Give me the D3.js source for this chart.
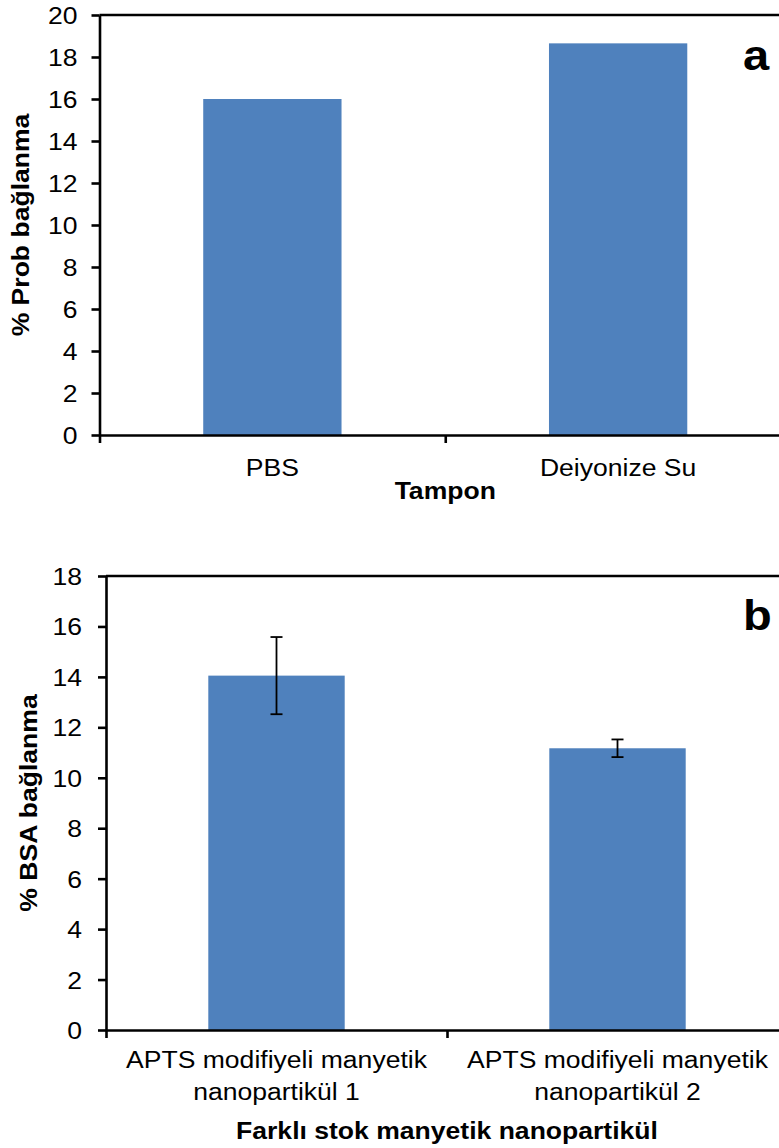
<!DOCTYPE html>
<html>
<head>
<meta charset="utf-8">
<script src="https://cdn.jsdelivr.net/npm/d3@7/dist/d3.min.js"></script>
<style>
  html, body { margin: 0; padding: 0; background: #ffffff; }
  svg { display: block; }
  text { font-family: "Liberation Sans", Arial, Helvetica, sans-serif; fill: #000; }
</style>
</head>
<body>
<svg id="chart" width="779" height="1148"></svg>
<script>
// ---- data ----
const bufferCategories = ["PBS", "Deiyonize Su"];
const probeBinding = [16.0, 18.65];
const probeTicks = [0, 2, 4, 6, 8, 10, 12, 14, 16, 18, 20];

const stockCategories = [
  ["APTS modifiyeli manyetik", "nanopartikül 1"],
  ["APTS modifiyeli manyetik", "nanopartikül 2"]
];
const bsaBinding = [14.05, 11.17];
const bsaError = [1.53, 0.35];
const bsaTicks = [0, 2, 4, 6, 8, 10, 12, 14, 16, 18];

// ---- styling ----
const BAR_COLOR = "#4F81BD";
const FONT_SIZE = 23.5;
const STRETCH = 1.13;      // horizontal widening of glyphs along the baseline
const AXIS_W = 2.6;

const svg = d3.select("#chart");

function drawPanel(cfg) {
  const g = svg.append("g");
  const y = d3.scaleLinear().domain([0, d3.max(cfg.ticks)]).range([cfg.bottom, cfg.top]);
  const keys = d3.range(cfg.values.length);
  const xBand = d3.scaleBand().domain(keys).range([cfg.left, cfg.right])
    .paddingInner(0.6).paddingOuter(0.3);
  const xEdge = d3.scaleLinear().domain([0, keys.length]).range([cfg.left, cfg.right]);

  // bars
  g.selectAll("rect.bar").data(cfg.values).join("rect")
    .attr("class", "bar")
    .attr("x", (d, i) => xBand(i))
    .attr("width", xBand.bandwidth())
    .attr("y", d => y(d))
    .attr("height", d => y(0) - y(d))
    .attr("fill", BAR_COLOR);

  // error bars
  if (cfg.errors) {
    const eg = g.append("g").attr("stroke", "#000").attr("stroke-width", 1.8).attr("fill", "none");
    cfg.values.forEach((v, i) => {
      const cx = xBand(i) + xBand.bandwidth() / 2;
      const lo = y(v - cfg.errors[i]), hi = y(v + cfg.errors[i]);
      eg.append("line").attr("x1", cx).attr("x2", cx).attr("y1", lo).attr("y2", hi);
      eg.append("line").attr("x1", cx - 6).attr("x2", cx + 6).attr("y1", lo).attr("y2", lo);
      eg.append("line").attr("x1", cx - 6).attr("x2", cx + 6).attr("y1", hi).attr("y2", hi);
    });
  }

  // plot-area top border
  g.append("line")
    .attr("x1", cfg.left).attr("x2", cfg.right + 5)
    .attr("y1", y(d3.max(cfg.ticks))).attr("y2", y(d3.max(cfg.ticks)))
    .attr("stroke", "#000").attr("stroke-width", AXIS_W);

  // y axis
  const yAxis = g.append("g")
    .attr("transform", `translate(${cfg.left},0)`)
    .call(d3.axisLeft(y).tickValues(cfg.ticks).tickSize(8).tickSizeOuter(0).tickFormat(d3.format("d")));
  yAxis.select(".domain").attr("stroke", "#000").attr("stroke-width", AXIS_W);
  yAxis.selectAll(".tick line").attr("stroke", "#000").attr("stroke-width", AXIS_W);
  yAxis.selectAll(".tick text")
    .attr("x", null).attr("dy", "0.36em")
    .attr("transform", `translate(${-cfg.tickLabelGap},0) scale(${STRETCH},1)`)
    .attr("font-size", FONT_SIZE)
    .attr("font-family", "Liberation Sans, Arial, sans-serif")
    .attr("fill", "#000");

  // x axis with category ticks at the band edges
  const xAxis = g.append("g")
    .attr("transform", `translate(0,${cfg.bottom})`)
    .call(d3.axisBottom(xEdge).tickValues(d3.range(keys.length + 1)).tickSize(8).tickSizeOuter(0).tickFormat(""));
  xAxis.select(".domain").attr("stroke", "#000").attr("stroke-width", AXIS_W);
  xAxis.selectAll(".tick line").attr("stroke", "#000").attr("stroke-width", AXIS_W);

  // category labels
  cfg.categories.forEach((c, i) => {
    const lines = Array.isArray(c) ? c : [c];
    const cx = xBand(i) + xBand.bandwidth() / 2;
    lines.forEach((ln, j) => {
      g.append("text")
        .attr("transform", `translate(${cx},${cfg.bottom + cfg.catBaseline + j * 32}) scale(${STRETCH},1)`)
        .attr("text-anchor", "middle")
        .attr("font-size", FONT_SIZE)
        .text(ln);
    });
  });

  // x-axis title
  g.append("text")
    .attr("transform", `translate(${(cfg.left + cfg.right) / 2},${cfg.bottom + cfg.xTitleBaseline}) scale(${STRETCH},1)`)
    .attr("text-anchor", "middle")
    .attr("font-size", FONT_SIZE)
    .attr("font-weight", "bold")
    .text(cfg.xTitle);

  // y-axis title
  g.append("text")
    .attr("transform", `translate(${cfg.yTitleX},${(cfg.top + cfg.bottom) / 2}) rotate(-90) scale(${STRETCH},1)`)
    .attr("text-anchor", "middle")
    .attr("font-size", FONT_SIZE)
    .attr("font-weight", "bold")
    .text(cfg.yTitle);

  // panel letter
  g.append("text")
    .attr("transform", `translate(${cfg.letterX},${cfg.letterY}) scale(1.12,1)`)
    .attr("font-size", 42)
    .attr("font-weight", "bold")
    .text(cfg.letter);
}

drawPanel({
  values: probeBinding, categories: bufferCategories, ticks: probeTicks,
  left: 99.5, right: 791, top: 15, bottom: 435,
  tickLabelGap: 22, catBaseline: 41, xTitleBaseline: 64, yTitleX: 29,
  xTitle: "Tampon", yTitle: "% Prob bağlanma",
  letter: "a", letterX: 743, letterY: 70
});

drawPanel({
  values: bsaBinding, errors: bsaError, categories: stockCategories, ticks: bsaTicks,
  left: 106, right: 788, top: 576, bottom: 1030,
  tickLabelGap: 24, catBaseline: 38, xTitleBaseline: 109, yTitleX: 37,
  xTitle: "Farklı stok manyetik nanopartikül", yTitle: "% BSA bağlanma",
  letter: "b", letterX: 743, letterY: 630
});
</script>
</body>
</html>
